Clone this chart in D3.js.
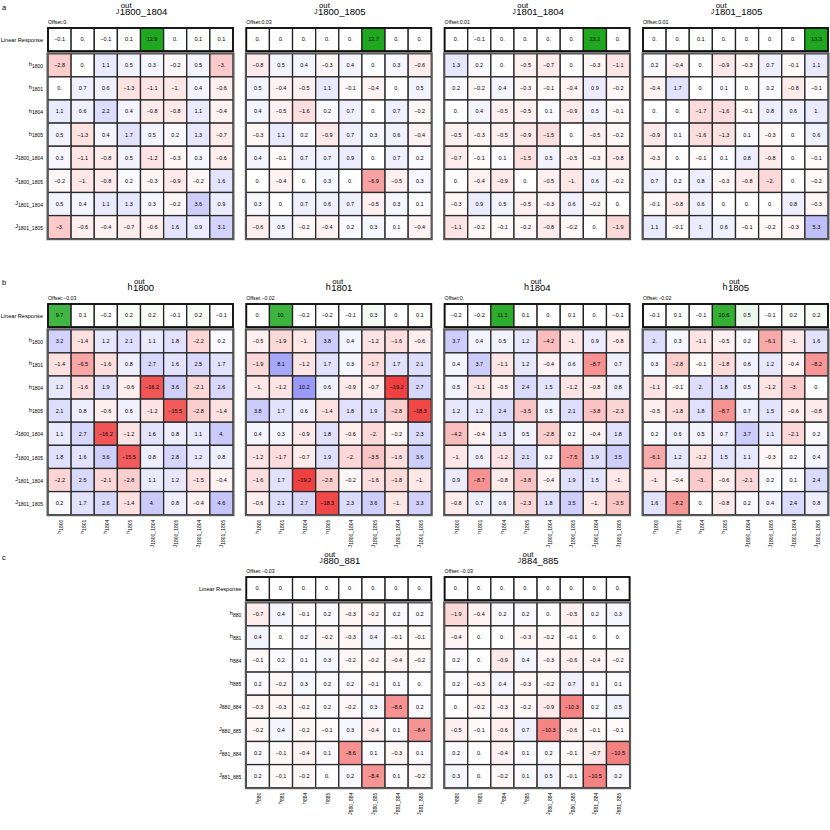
<!DOCTYPE html>
<html>
<head>
<meta charset="utf-8">
<script src="https://cdn.jsdelivr.net/npm/d3@7"></script>
<style>
  body { margin: 0; background: #fff; }
  svg { font-family: "Liberation Sans", Arial, sans-serif; }
</style>
</head>
<body>
<div id="chart"></div>
<script>
// response matrices: first row = linear response, then one row per input coupling

// labels
const rowLabelsAB = [["h", "1800"], ["h", "1801"], ["h", "1804"], ["h", "1805"],
  ["J", "1800_1804"], ["J", "1800_1805"], ["J", "1801_1804"], ["J", "1801_1805"]];
const rowLabelsC = [["h", "880"], ["h", "881"], ["h", "884"], ["h", "885"],
  ["J", "880_884"], ["J", "880_885"], ["J", "881_884"], ["J", "881_885"]];

const titlesA = [["J", "1800_1804"], ["J", "1800_1805"], ["J", "1801_1804"], ["J", "1801_1805"]];
const titlesB = [["h", "1800"], ["h", "1801"], ["h", "1804"], ["h", "1805"]];
const titlesC = [["J", "880_881"], ["J", "884_885"]];

const offsetsA = [0, 0.03, 0.01, 0.01];
const offsetsB = [-0.03, -0.02, 0, -0.02];
const offsetsC = [-0.03, -0.03];

// panel a
const jOut1800_1804 = [
  [-0.1, 0, -0.1, 0.1, 12.9, 0, 0.1, 0.1],
  [-2.8, 0, 1.1, 0.5, 0.3, -0.2, 0.5, -3],
  [0, 0.7, 0.6, -1.3, -1.1, -1, 0.4, -0.6],
  [1.1, 0.6, 2.2, 0.4, -0.8, -0.8, 1.1, -0.4],
  [0.5, -1.3, 0.4, 1.7, 0.5, 0.2, 1.3, -0.7],
  [0.3, -1.1, -0.8, 0.5, -1.2, -0.3, 0.3, -0.6],
  [-0.2, -1, -0.8, 0.2, -0.3, -0.9, -0.2, 1.6],
  [0.5, 0.4, 1.1, 1.3, 0.3, -0.2, 3.6, 0.9],
  [-3, -0.6, -0.4, -0.7, -0.6, 1.6, 0.9, 3.1]
];
const jOut1800_1805 = [
  [0, 0, 0, 0, 0, 12.7, 0, 0],
  [-0.8, 0.5, 0.4, -0.3, 0.4, 0, 0.3, -0.6],
  [0.5, -0.4, -0.5, 1.1, -0.1, -0.4, 0, 0.5],
  [0.4, -0.5, -1.6, 0.2, 0.7, 0, 0.7, -0.2],
  [-0.3, 1.1, 0.2, -0.9, 0.7, 0.3, 0.6, -0.4],
  [0.4, -0.1, 0.7, 0.7, 0.9, 0, 0.7, 0.2],
  [0, -0.4, 0, 0.3, 0, -6.9, -0.5, 0.3],
  [0.3, 0, 0.7, 0.6, 0.7, -0.5, 0.3, 0.1],
  [-0.6, 0.5, -0.2, -0.4, 0.2, 0.3, 0.1, -0.4]
];
const jOut1801_1804 = [
  [0, -0.1, 0, 0, 0, 0, 13.1, 0],
  [1.3, 0.2, 0, -0.5, -0.7, 0, -0.3, -1.1],
  [0.2, -0.2, 0.4, -0.3, -0.1, -0.4, 0.9, -0.2],
  [0, 0.4, -0.5, -0.5, 0.1, -0.9, 0.5, -0.1],
  [-0.5, -0.3, -0.5, -0.9, -1.5, 0, -0.5, -0.2],
  [-0.7, -0.1, 0.1, -1.5, 0.5, -0.5, -0.3, -0.8],
  [0, -0.4, -0.9, 0, -0.5, -1, 0.6, -0.2],
  [-0.3, 0.9, 0.5, -0.5, -0.3, 0.6, -0.2, 0],
  [-1.1, -0.2, -0.1, -0.2, -0.8, -0.2, 0, -1.9]
];
const jOut1801_1805 = [
  [0, 0, 0.1, 0, 0, 0, 0, 13.3],
  [0.2, -0.4, 0, -0.9, -0.3, 0.7, -0.1, 1.1],
  [-0.4, 1.7, 0, 0.1, 0, 0.2, -0.8, -0.1],
  [0, 0, -1.7, -1.6, -0.1, 0.8, 0.6, 1],
  [-0.9, 0.1, -1.6, -1.3, 0.1, -0.3, 0, 0.6],
  [-0.3, 0, -0.1, 0.1, 0.8, -0.8, 0, -0.1],
  [0.7, 0.2, 0.8, -0.3, -0.8, -2, 0, -0.2],
  [-0.1, -0.8, 0.6, 0, 0, 0, 0.8, -0.3],
  [1.1, -0.1, 1, 0.6, -0.1, -0.2, -0.3, 5.3]
];

// panel b
const hOut1800 = [
  [9.7, 0.1, -0.2, 0.2, 0.2, -0.1, 0.2, -0.1],
  [3.2, -1.4, 1.2, 2.1, 1.1, 1.8, -2.2, 0.2],
  [-1.4, -6.5, -1.6, 0.8, 2.7, 1.6, 2.5, 1.7],
  [1.2, -1.6, 1.9, -0.6, -16.2, 3.6, -2.1, 2.6],
  [2.1, 0.8, -0.6, 0.6, -1.2, -15.5, -2.8, -1.4],
  [1.1, 2.7, -16.2, -1.2, 1.6, 0.8, 1.1, 4],
  [1.8, 1.6, 3.6, -15.5, 0.8, 2.8, 1.2, 0.8],
  [-2.2, 2.5, -2.1, -2.8, 1.1, 1.2, -1.5, -0.4],
  [0.2, 1.7, 2.6, -1.4, 4, 0.8, -0.4, 4.6]
];
const hOut1801 = [
  [0, 10, -0.2, -0.2, -0.1, 0.3, 0, 0.1],
  [-0.5, -1.9, -1, 3.8, 0.4, -1.2, -1.6, -0.6],
  [-1.9, 8.1, -1.2, 1.7, 0.3, -1.7, 1.7, 2.1],
  [-1, -1.2, 10.2, 0.6, -0.9, -0.7, -19.2, 2.7],
  [3.8, 1.7, 0.6, -1.4, 1.8, 1.9, -2.8, -18.3],
  [0.4, 0.3, -0.9, 1.8, -0.6, -2, -0.2, 2.3],
  [-1.2, -1.7, -0.7, 1.9, -2, -3.5, -1.6, 3.6],
  [-1.6, 1.7, -19.2, -2.8, -0.2, -1.6, -1.8, -1],
  [-0.6, 2.1, 2.7, -18.3, 2.3, 3.6, -1, 3.3]
];
const hOut1804 = [
  [-0.2, -0.2, 11.1, 0.1, 0, 0.1, 0, -0.1],
  [3.7, 0.4, 0.5, 1.2, -4.2, -1, 0.9, -0.8],
  [0.4, 3.7, -1.1, 1.2, -0.4, 0.6, -8.7, 0.7],
  [0.5, -1.1, -0.5, 2.4, 1.5, -1.2, -0.8, 0.8],
  [1.2, 1.2, 2.4, -3.5, 0.5, 2.1, -3.8, -2.3],
  [-4.2, -0.4, 1.5, 0.5, -2.8, 0.2, -0.4, 1.8],
  [-1, 0.6, -1.2, 2.1, 0.2, -7.5, 1.9, 3.5],
  [0.9, -8.7, -0.8, -3.8, -0.4, 1.9, 1.5, -1],
  [-0.8, 0.7, 0.6, -2.3, 1.8, 3.5, -1, -3.5]
];
const hOut1805 = [
  [-0.1, 0.1, -0.1, 10.6, 0.5, -0.1, 0.2, 0.2],
  [2, 0.3, -1.1, -0.5, 0.2, -6.1, -1, 1.6],
  [0.3, -2.8, -0.1, -1.8, 0.6, 1.2, -0.4, -8.2],
  [-1.1, -0.1, 2, 1.8, 0.5, -1.2, -3, 0],
  [-0.5, -1.8, 1.8, -8.7, 0.7, 1.5, -0.6, -0.8],
  [0.2, 0.6, 0.5, 0.7, 3.7, 1.1, -2.1, 0.2],
  [-6.1, 1.2, -1.2, 1.5, 1.1, -0.3, 0.2, 0.4],
  [-1, -0.4, -3, -0.6, -2.1, 0.2, 0.1, 2.4],
  [1.6, -8.2, 0, -0.8, 0.2, 0.4, 2.4, 0.8]
];

// panel c
const jOut880_881 = [
  [0, 0, 0, 0, 0, 0, 0, 0],
  [-0.7, 0.4, -0.1, 0.2, -0.3, -0.2, 0.2, 0.2],
  [0.4, 0, 0.2, -0.2, -0.3, 0.4, -0.1, -0.1],
  [-0.1, 0.2, 0.1, 0.3, -0.2, -0.2, -0.4, -0.2],
  [0.2, -0.2, 0.3, 0.2, 0.2, -0.1, 0.1, 0],
  [-0.3, -0.3, -0.2, 0.2, -0.2, 0.3, -8.6, 0.2],
  [-0.2, 0.4, -0.2, -0.1, 0.3, -0.4, 0.1, -8.4],
  [0.2, -0.1, -0.4, 0.1, -8.6, 0.1, -0.3, 0.1],
  [0.2, -0.1, -0.2, 0, 0.2, -8.4, 0.1, -0.2]
];
const jOut884_885 = [
  [0, 0, 0, 0, 0, 0, 0, 0],
  [-1.9, -0.4, 0.2, 0.2, 0, -0.5, 0.2, 0.3],
  [-0.4, 0, 0, -0.3, -0.2, -0.1, 0, 0],
  [0.2, 0, -0.9, 0.4, -0.3, -0.6, -0.4, -0.2],
  [0.2, -0.3, 0.4, -0.3, -0.2, 0.7, 0.1, 0.1],
  [0, -0.2, -0.3, -0.2, -0.9, -10.3, 0.2, 0.5],
  [-0.5, -0.1, -0.6, 0.7, -10.3, -0.6, -0.1, -0.1],
  [0.2, 0, -0.4, 0.1, 0.2, -0.1, -0.7, -10.5],
  [0.3, 0, -0.2, 0.1, 0.5, -0.1, -10.5, 0.2]
];

const W = 830, H = 830;
const cell = 185 / 8;
const gridLefts = [48, 246.3, 444.6, 643];

const svg = d3.select("#chart").append("svg")
  .attr("width", W)
  .attr("height", H);

const redScale = d3.scalePow().exponent(0.7).domain([0, 20]).range(["#ffffff", "#ef3b3b"]).clamp(true);
const blueScale = d3.scalePow().exponent(0.7).domain([0, 20]).range(["#ffffff", "#5c5cf2"]).clamp(true);
const greenScale = d3.scalePow().exponent(0.8).domain([0, 12]).range(["#ffffff", "#1fa81f"]).clamp(true);

function fmt(v) {
  const s = Number.isInteger(v) ? Math.abs(v) + "." : String(Math.abs(v));
  return (v < 0 ? "\u2212" : "") + s;
}

// letter with subscript, as tspans
function subLabel(text, parts, big, small, shift) {
  text.append("tspan").attr("font-size", big).text(parts[0]);
  text.append("tspan").attr("font-size", small).attr("dy", shift).text(parts[1]);
}

function heatmap(x0, top, matrix, opts) {
  const g = svg.append("g");
  const x = d3.scaleBand().domain(d3.range(8)).range([x0, x0 + 8 * cell]);
  const mainTop = top + cell + 2.6;
  const y = d3.scaleBand().domain(d3.range(8)).range([mainTop, mainTop + 8 * cell]);

  // title: letter, "out" on top, index below
  const cx = x0 + 4 * cell;
  const sub = g.append("text")
    .attr("x", cx + 3).attr("y", top - 13.5)
    .attr("text-anchor", "middle")
    .attr("font-size", 9.5)
    .text(opts.title[1]);
  const bb = sub.node().getBBox();
  g.append("text")
    .attr("x", bb.x + 1).attr("y", top - 20.5)
    .attr("font-size", 7.8)
    .text("out");
  g.append("text")
    .attr("x", bb.x - 0.5).attr("y", top - 14)
    .attr("text-anchor", "end")
    .attr("font-size", opts.title[0] === "J" ? 6.5 : 9)
    .text(opts.title[0]);

  g.append("text")
    .attr("x", x0).attr("y", top - 4)
    .attr("font-size", 5.2)
    .text("Offset:" + fmt(opts.offset));

  // linear response row
  const lr = matrix[0];
  g.selectAll("rect.lr").data(lr).enter().append("rect")
    .attr("x", (d, i) => x(i)).attr("y", top)
    .attr("width", cell).attr("height", cell)
    .attr("fill", d => greenScale(Math.max(d, 0)))
    .attr("stroke", "#222").attr("stroke-width", 1.3);
  g.selectAll("text.lr").data(lr).enter().append("text")
    .attr("x", (d, i) => x(i) + cell / 2).attr("y", top + cell / 2 + 1.9)
    .attr("text-anchor", "middle").attr("font-size", 5.5)
    .text(d => fmt(d));
  g.append("rect")
    .attr("x", x0).attr("y", top).attr("width", 8 * cell).attr("height", cell)
    .attr("fill", "none").attr("stroke", "#111").attr("stroke-width", 1.8);

  // response block
  const cells = [];
  matrix.slice(1).forEach((row, r) => row.forEach((v, c) => cells.push({ r, c, v })));
  g.selectAll("rect.c").data(cells).enter().append("rect")
    .attr("x", d => x(d.c)).attr("y", d => y(d.r))
    .attr("width", cell).attr("height", cell)
    .attr("fill", d => d.v < 0 ? redScale(-d.v) : blueScale(d.v))
    .attr("stroke", "#2a2a2a").attr("stroke-width", 1.3);
  g.selectAll("text.c").data(cells).enter().append("text")
    .attr("x", d => x(d.c) + cell / 2).attr("y", d => y(d.r) + cell / 2 + 1.9)
    .attr("text-anchor", "middle").attr("font-size", 5.5)
    .text(d => fmt(d.v));
  g.append("rect")
    .attr("x", x0 - 0.6).attr("y", mainTop - 0.6)
    .attr("width", 8 * cell + 1.2).attr("height", 8 * cell + 1.2)
    .attr("fill", "none").attr("stroke", "#5a5a5a").attr("stroke-width", 1.8);

  if (opts.rowLabels) {
    g.append("text")
      .attr("x", x0 - 5).attr("y", top + cell / 2 + 2)
      .attr("text-anchor", "end").attr("font-size", 5.6)
      .text("Linear Response");
    opts.rowLabels.forEach((p, r) => {
      const t = g.append("text")
        .attr("x", x0 - 5).attr("y", y(r) + cell / 2 + 1)
        .attr("text-anchor", "end");
      subLabel(t, p, 5.6, 5, 1.6);
    });
  }

  if (opts.colLabels) {
    const by = mainTop + 8 * cell + 5;
    opts.colLabels.forEach((p, c) => {
      const t = g.append("text")
        .attr("transform", `translate(${x(c) + cell / 2 + 1.5},${by}) rotate(-90)`)
        .attr("text-anchor", "end");
      subLabel(t, p, 5.6, 5, 1.6);
    });
  }
}

// panel letters
[["a", 10], ["b", 285], ["c", 560]].forEach(([s, yy]) => {
  svg.append("text").attr("x", 2).attr("y", yy).attr("font-size", 7.5).text(s);
});

const panelA = [jOut1800_1804, jOut1800_1805, jOut1801_1804, jOut1801_1805];
panelA.forEach((m, i) => heatmap(gridLefts[i], 28, m, {
  title: titlesA[i], offset: offsetsA[i], rowLabels: i === 0 ? rowLabelsAB : null
}));

const panelB = [hOut1800, hOut1801, hOut1804, hOut1805];
panelB.forEach((m, i) => heatmap(gridLefts[i], 304, m, {
  title: titlesB[i], offset: offsetsB[i], rowLabels: i === 0 ? rowLabelsAB : null,
  colLabels: rowLabelsAB
}));

const panelC = [jOut880_881, jOut884_885];
panelC.forEach((m, i) => heatmap(gridLefts[i + 1], 577, m, {
  title: titlesC[i], offset: offsetsC[i], rowLabels: i === 0 ? rowLabelsC : null,
  colLabels: rowLabelsC
}));
</script>
</body>
</html>
